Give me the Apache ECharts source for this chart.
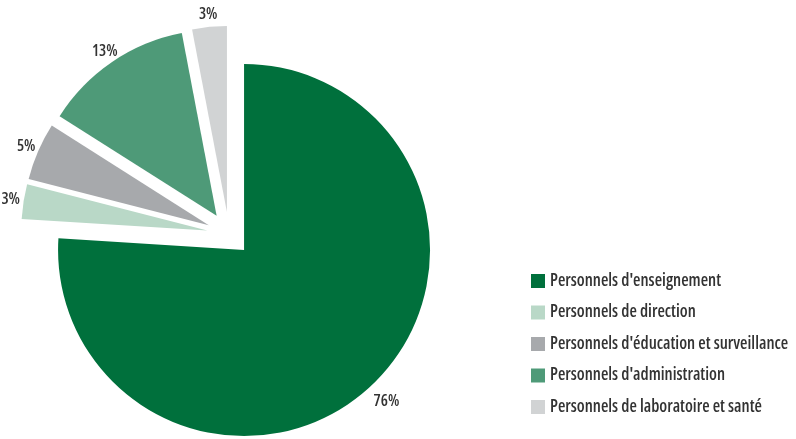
<!DOCTYPE html>
<html>
<head>
<meta charset="utf-8">
<script src="https://cdn.jsdelivr.net/npm/echarts@6/dist/echarts.min.js"></script>
<style>
html,body{margin:0;padding:0;background:#fff;}
#chart{width:796px;height:439px;}
</style>
</head>
<body>
<div id="chart"></div>
<script>
var categories = [
  "Personnels d'enseignement",
  "Personnels de direction",
  "Personnels d'éducation et surveillance",
  "Personnels d'administration",
  "Personnels de laboratoire et santé"
];
var values = [76, 3, 5, 13, 3];
var colors = ['#00703C', '#B9D8C7', '#A7A9AC', '#4E9A78', '#D1D3D4'];

var FONT = "'Open Sans', 'Noto Sans', sans-serif";

var data = categories.map(function (c, i) {
  var d = { name: c, value: values[i], selected: true, itemStyle: { color: colors[i] } };
  if (i === 0) { d.labelLine = { length: 22 }; }
  return d;
});

var chart = echarts.init(document.getElementById('chart'), null, { renderer: 'canvas' });
chart.setOption({
  animation: false,
  backgroundColor: '#ffffff',
  legend: {
    orient: 'vertical',
    left: 531,
    top: 272.5,
    padding: 0,
    icon: 'rect',
    itemWidth: 14,
    itemHeight: 14,
    itemGap: 14.5,
    selectedMode: false,
    textStyle: { fontFamily: FONT, fontStyle: 'normal condensed', fontWeight: 600, fontSize: 17, color: '#333333' },
    data: categories
  },
  series: [{
    type: 'pie',
    center: [229, 234],
    radius: [0, 186],
    startAngle: 90,
    clockwise: true,
    selectedMode: 'multiple',
    selectedOffset: 22,
    avoidLabelOverlap: false,
    label: {
      show: true,
      position: 'outside',
      distanceToLabelLine: 0,
      formatter: function (p) { return p.value + '%'; },
      fontFamily: FONT,
      fontStyle: 'normal condensed',
      fontWeight: 600,
      fontSize: 16,
      color: '#333333'
    },
    labelLine: { show: false, length: 13, length2: 0 },
    labelLayout: function () {
      return { align: 'center', verticalAlign: 'middle' };
    },
    emphasis: { disabled: true },
    data: data
  }]
});
</script>
</body>
</html>
